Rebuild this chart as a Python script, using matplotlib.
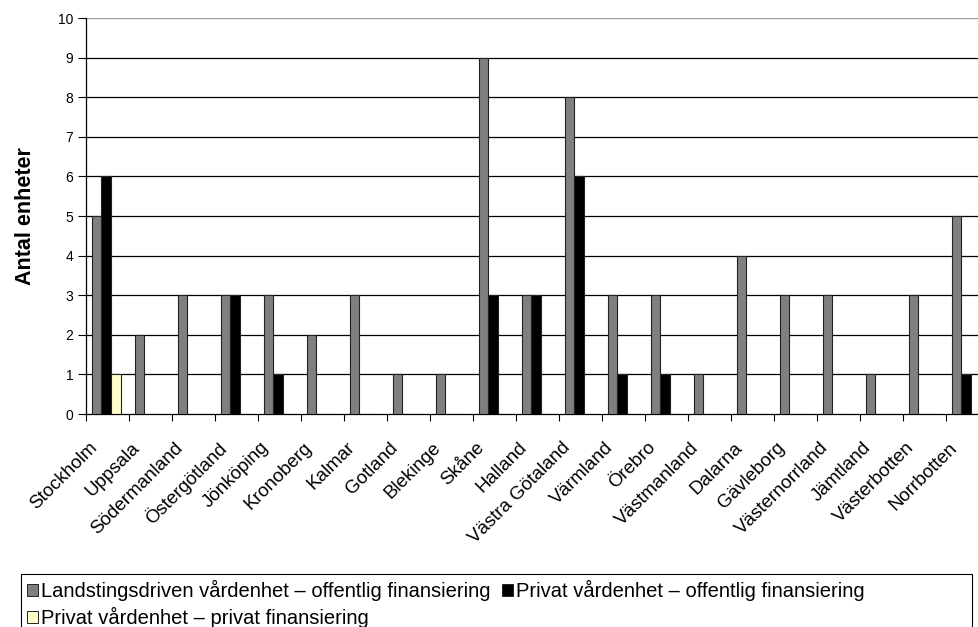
import matplotlib
matplotlib.use("Agg")
import matplotlib.pyplot as plt
import numpy as np
from matplotlib.patches import Rectangle

plt.rcParams['font.family'] = ['Liberation Sans', 'DejaVu Sans']

regions = ["Stockholm", "Uppsala", "Södermanland", "Östergötland", "Jönköping",
           "Kronoberg", "Kalmar", "Gotland", "Blekinge", "Skåne", "Halland",
           "Västra Götaland", "Värmland", "Örebro", "Västmanland", "Dalarna",
           "Gävleborg", "Västernorrland", "Jämtland", "Västerbotten", "Norrbotten"]
landsting = [5, 2, 3, 3, 3, 2, 3, 1, 1, 9, 3, 8, 3, 3, 1, 4, 3, 3, 1, 3, 5]
privat_offentlig = [6, 0, 0, 3, 1, 0, 0, 0, 0, 3, 3, 6, 1, 1, 0, 0, 0, 0, 0, 0, 1]
privat_privat = [1, 0, 0, 0, 0, 0, 0, 0, 0, 0, 0, 0, 0, 0, 0, 0, 0, 0, 0, 0, 0]
series_names = ["Landstingsdriven vårdenhet – offentlig finansiering",
                "Privat vårdenhet – offentlig finansiering",
                "Privat vårdenhet – privat finansiering"]
colors = ["#808080", "#000000", "#FFFFCC"]
yticks = list(range(0, 11))

W, H = 979, 627
fig = plt.figure(figsize=(W / 100, H / 100), dpi=100)
left, right, top, bottom = 86, 989, 18, 414
ax = fig.add_axes([left / W, 1 - bottom / H, (right - left) / W, (bottom - top) / H])

n = len(regions)
x = np.arange(n)
bw = 0.225
for i, (vals, c) in enumerate(zip([landsting, privat_offentlig, privat_privat], colors)):
    ax.bar(x + (i - 1) * bw - 0.03, vals, width=bw, color=c, edgecolor="#222222",
           linewidth=0.8, zorder=3, label=series_names[i])

ax.set_xlim(-0.5, n - 0.5)
ax.set_ylim(0, 10)
ax.set_yticks(yticks)
ax.set_yticklabels([str(v) for v in yticks], fontsize=10)
for v in yticks[1:]:
    ax.axhline(v, color="black" if v < 10 else "#999999", linewidth=0.9, zorder=1)

ax.set_xticks(np.arange(n + 1) - 0.5, minor=False)
ax.set_xticklabels([])
ax.tick_params(axis='x', direction='out', length=5, width=0.8)
ax.tick_params(axis='y', direction='out', length=6, width=0.8, pad=3)
for s in ["top", "right"]:
    ax.spines[s].set_visible(False)
ax.spines["left"].set_linewidth(0.9)
ax.spines["bottom"].set_linewidth(0.9)

for i, name in enumerate(regions):
    ax.annotate(name, xy=(i, 0), xycoords=("data", "axes fraction"),
                xytext=(-13, -31), textcoords="offset pixels",
                rotation=45, ha="right", va="center", rotation_mode="anchor",
                fontsize=13.5)

ax.set_ylabel("Antal enheter", fontsize=15.5, fontweight="bold", labelpad=16)

# legend box
fig.patches.append(Rectangle((21 / W, 1 - 632 / H), 951 / W, 58 / H,
                             transform=fig.transFigure, fill=False,
                             edgecolor="black", linewidth=0.8))
def legend_item(xp, yp, color, text):
    fig.patches.append(Rectangle((xp / W, 1 - (yp + 6) / H), 11 / W, 12 / H,
                                 transform=fig.transFigure, facecolor=color,
                                 edgecolor="#222222", linewidth=0.7))
    fig.text((xp + 14) / W, 1 - (yp + 0.5) / H, text, fontsize=14.5,
             va="center", ha="left")

legend_item(27, 590, colors[0], series_names[0])
legend_item(502, 590, colors[1], series_names[1])
legend_item(27, 617, colors[2], series_names[2])

fig.savefig("out.png", dpi=100)
